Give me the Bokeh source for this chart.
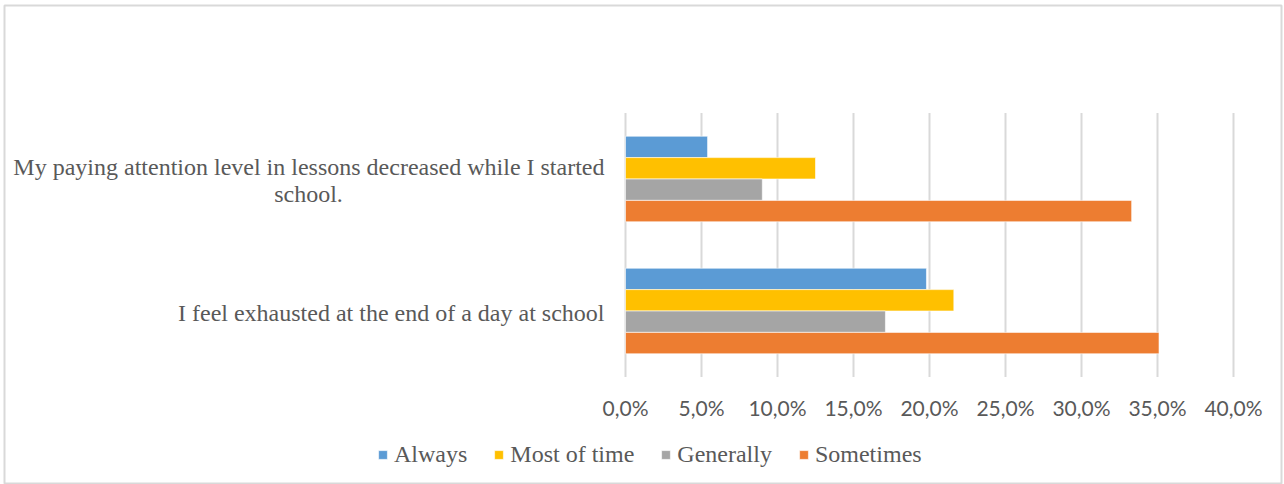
from bokeh.plotting import figure
from bokeh.models import ColumnDataSource, FactorRange, Label, Legend, LegendItem, Range1d
from bokeh.transform import dodge
from bokeh.embed import file_html
from bokeh.resources import INLINE

questions = ["I feel exhausted at the end of a day at school",
             "My paying attention level in lessons decreased while I started school."]
series = ["Always", "Most of time", "Generally", "Sometimes"]
colors = ["#5B9BD5", "#FFC000", "#A5A5A5", "#ED7D31"]
always = [19.8, 5.4]
most_of_time = [21.6, 12.5]
generally = [17.1, 9.0]
sometimes = [35.1, 33.3]
ticks = [0, 5, 10, 15, 20, 25, 30, 35, 40]
tick_labels = ["0,0%", "5,0%", "10,0%", "15,0%", "20,0%", "25,0%", "30,0%", "35,0%", "40,0%"]

source = ColumnDataSource(dict(q=questions, Always=always, Most=most_of_time,
                               Generally=generally, Sometimes=sometimes))

# ---- layout (pixels) ----
W, H = 1284, 484
FRAME_L, FRAME_R, FRAME_T = 4, 1281, 5       # frame = chart border box
ZERO_PX, MAX_PX = 625, 1233                   # where 0 % and 40 % sit
PLOT_H = 264                                  # height of the bar area
px_per_unit = (MAX_PX - ZERO_PX) / ticks[-1]
x_min = -(ZERO_PX - FRAME_L) / px_per_unit
x_max = ticks[-1] + (FRAME_R - MAX_PX) / px_per_unit
frame_h = H - FRAME_T
pad_px = (frame_h - PLOT_H) / 2
pad = pad_px / (PLOT_H / len(questions))      # in category units

p = figure(width=W, height=H,
           y_range=FactorRange(*questions, range_padding=pad, range_padding_units="absolute"),
           x_range=Range1d(x_min, x_max),
           output_backend="svg", toolbar_location=None,
           min_border_left=FRAME_L, min_border_right=W - FRAME_R,
           min_border_top=FRAME_T, min_border_bottom=0)
p.background_fill_color = "white"
p.border_fill_color = "white"
p.outline_line_color = "#D9D9D9"
p.outline_line_width = 2
p.xaxis.visible = False
p.yaxis.visible = False
p.xgrid.visible = False
p.ygrid.visible = False

# vertical grid lines over the bar area
n = len(questions)
p.segment(x0=ticks, x1=ticks, y0=[0] * len(ticks), y1=[n] * len(ticks),
          line_color="#D9D9D9", line_width=2)

fields = ["Always", "Most", "Generally", "Sometimes"]
offsets = [0.243, 0.081, -0.081, -0.243]
renderers = []
for f, off, c in zip(fields, offsets, colors):
    r = p.hbar(y=dodge("q", off, range=p.y_range), right=f, left=0, height=0.162,
               source=source, fill_color=c, line_color="white", line_width=0.6)
    renderers.append(r)

# x tick labels
p.text(x=ticks, y=[0] * len(ticks), text=tick_labels, y_offset=30,
       text_align="center", text_baseline="middle", text_font={"value": "Lato"},
       text_font_size="21px", text_color="#595959")

# category labels
ypos = {q: i + 0.5 for i, q in enumerate(questions)}
lab = dict(text_baseline="middle", text_font="Liberation Serif",
           text_font_size="24px", text_color="#595959")
p.add_layout(Label(x=0, y=ypos[questions[0]], x_offset=-21, y_offset=-2, text=questions[0],
                   text_align="right", **lab))
p.add_layout(Label(x=0, y=ypos[questions[1]], x_offset=-21, y_offset=12,
                   text="My paying attention level in lessons decreased while I started",
                   text_align="right", **lab))
p.add_layout(Label(x=0, y=ypos[questions[1]], x_offset=-317, y_offset=-15, text="school.",
                   text_align="center", **lab))

legend = Legend(items=[LegendItem(label=s, renderers=[r]) for s, r in zip(series, renderers)],
                orientation="horizontal", location=(377 - FRAME_L, 16))
legend.label_text_font = "Liberation Serif"
legend.label_text_font_size = "24px"
legend.label_text_color = "#595959"
legend.glyph_width = 11
legend.glyph_height = 11
legend.spacing = 26
legend.padding = 0
legend.margin = 0
legend.label_standoff = 6
legend.border_line_color = None
legend.background_fill_alpha = 0
p.add_layout(legend)

open("out.html", "w").write(file_html(p, INLINE))
